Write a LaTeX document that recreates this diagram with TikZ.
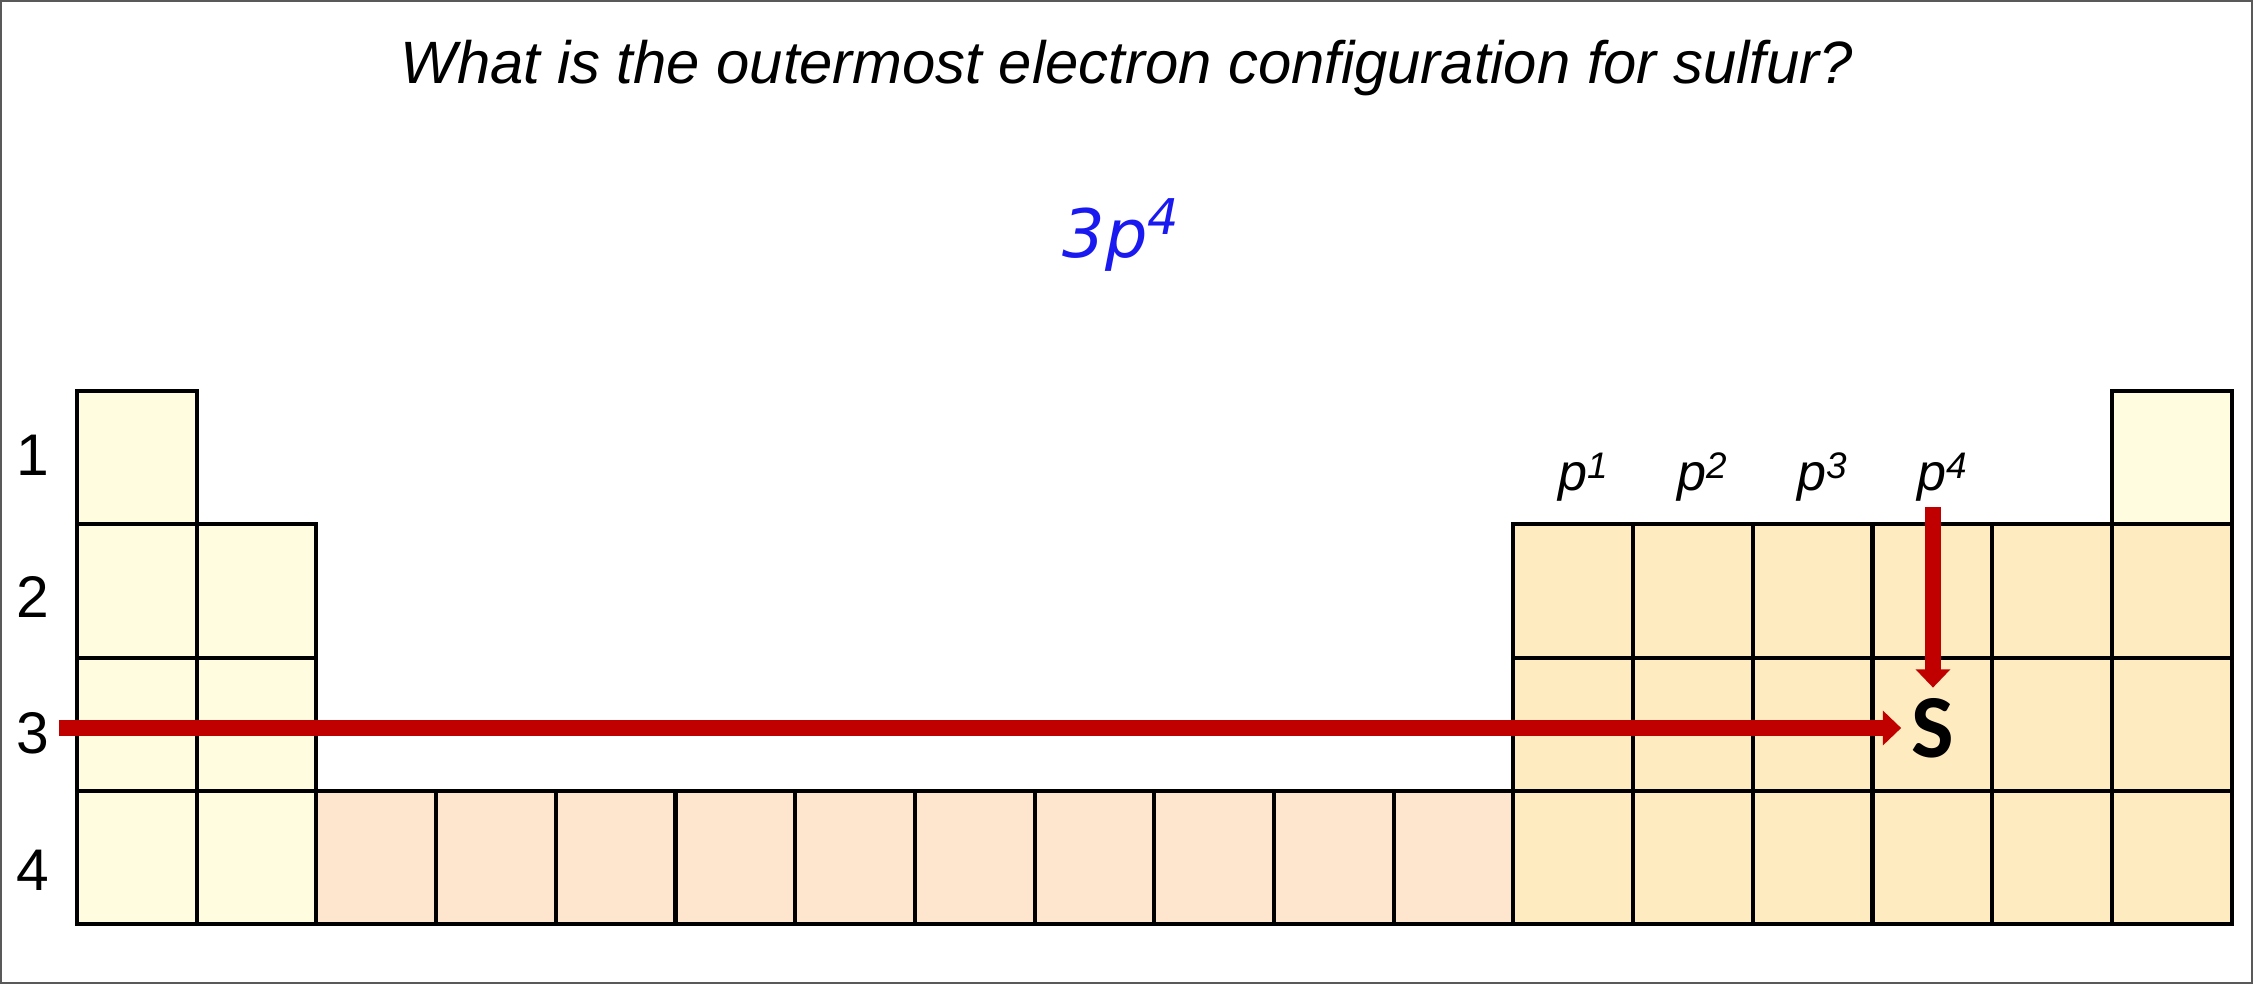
\documentclass[tikz,border=0pt]{standalone}
\usepackage{fontspec}
\setmainfont{Liberation Sans}
\newfontfamily\carlito{Carlito}
\newfontfamily\dejavu{DejaVu Sans}
\usetikzlibrary{arrows.meta}
\definecolor{sfill}{HTML}{FFFCE0}
\definecolor{dfill}{HTML}{FEE5CE}
\definecolor{pfill}{HTML}{FEEBC0}
\definecolor{arrowred}{HTML}{C00000}
\definecolor{ansblue}{HTML}{1A1AF0}
\newcommand{\plab}[1]{p\raisebox{0.42ex}{\fontsize{10.5}{12}\selectfont #1}}

\begin{document}
\begin{tikzpicture}[x=0.01cm,y=-0.01cm]
\tikzstyle{cell}=[draw,line width=1.15pt]
\tikzstyle{redarrow}=[draw=arrowred,line width=4.8pt,-{Triangle[length=5.2pt,width=9.6pt]}]
\tikzstyle{lbl}=[inner sep=0pt]
\useasboundingbox (0,0) rectangle (2253,984);
\draw[gray!70!black,line width=0.6pt] (1,1) rectangle (2252,983);
\node[lbl,anchor=base,font=\fontsize{17}{20}\selectfont\itshape] (question) at (1127,83) {What is the outermost electron configuration for sulfur?};
\node[lbl,anchor=base west,text=ansblue,font=\dejavu\itshape\fontsize{19}{22}\selectfont] (answer) at (1062,257) {3p\raisebox{0.62ex}{\fontsize{14}{16}\selectfont 4}};
\foreach \c/\r in {1/1,1/2,1/3,1/4,2/2,2/3,2/4,18/1}
  \path[cell,fill=sfill] ({77+(\c-1)*119.7},{391+(\r-1)*133.3}) rectangle ++(119.7,133.3);
\foreach \c in {3,...,12}
  \path[cell,fill=dfill] ({77+(\c-1)*119.7},790.9) rectangle ++(119.7,133.3);
\foreach \c in {13,...,18}
  \foreach \r in {2,3,4}
    \path[cell,fill=pfill] ({77+(\c-1)*119.7},{391+(\r-1)*133.3}) rectangle ++(119.7,133.3);
\foreach \r/\y in {1/455,2/597,3/733,4/870}
  \node[lbl,font=\fontsize{16.7}{19}\selectfont] (row\r) at (33,\y) {\r};
\foreach \k in {1,...,4}
  \node[lbl,anchor=base,font=\fontsize{14.8}{17}\selectfont\itshape] (p\k) at ({1583+(\k-1)*119.7},490) {\plab{\k}};
\node[inner sep=2.8pt,font=\carlito\bfseries\fontsize{25.6}{28}\selectfont] (S) at (1933,728) {S};
\coordinate (rowstart) at (59,728);
\coordinate (ptop) at (1933,507);
\draw[redarrow] (rowstart) -- (rowstart -| S.west);
\draw[redarrow] (ptop) -- (ptop |- S.north);
\end{tikzpicture}
\end{document}
